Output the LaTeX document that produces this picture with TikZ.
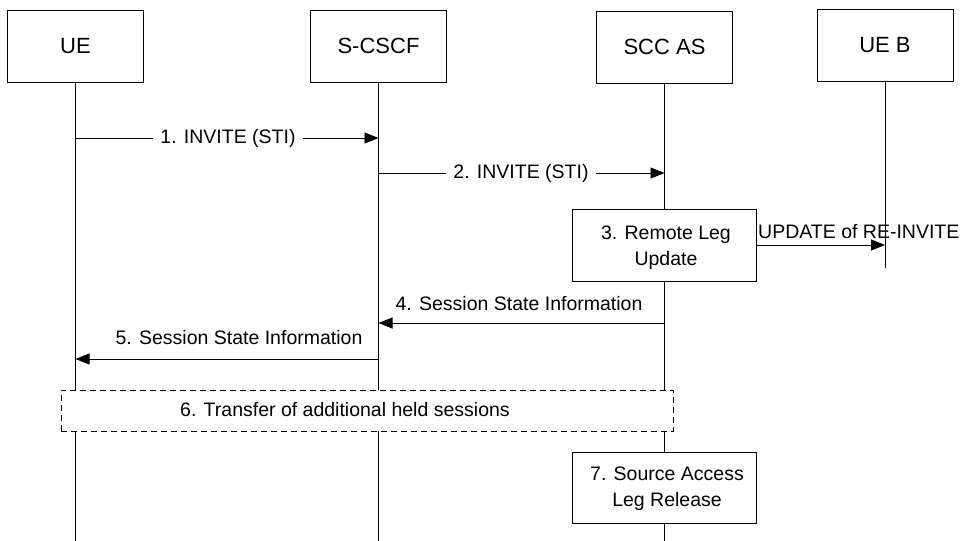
\documentclass[tikz,border=0pt]{standalone}
\usepackage{fontspec}
\setmainfont{Liberation Sans}
\usetikzlibrary{arrows.meta}

\tikzset{
  entity/.style={draw, fill=white, line width=0.8pt, minimum width=136pt, minimum height=72pt,
                 inner sep=0pt, font=\fontsize{22}{26}\selectfont},
  procbox/.style={draw, fill=white, line width=0.8pt, minimum width=184pt, minimum height=72pt,
                  inner sep=0pt, align=center, font=\fontsize{19.5}{26}\selectfont},
  heldbox/.style={draw, fill=white, line width=0.8pt, dash pattern=on 6pt off 4pt,
                  minimum width=612pt, minimum height=41pt, inner sep=0pt},
  lifeline/.style={line width=0.8pt},
  msg/.style={line width=0.8pt, -{Triangle[length=14pt,width=11pt]}},
  msglabel/.style={font=\fontsize{19.5}{23}\selectfont, inner sep=0pt},
  onlinelabel/.style={msglabel, fill=white, inner xsep=7pt, inner ysep=3pt}
}

\begin{document}
\begin{tikzpicture}[x=1pt,y=-1pt]
  \useasboundingbox[fill=white] (0,0) rectangle (962,541);

  % participants
  \node[entity] (ue)    at (75.5,46)  {UE};
  \node[entity] (scscf) at (378.5,46) {S-CSCF};
  \node[entity] (sccas) at (664.5,47) {SCC AS};
  \node[entity] (ueb)   at (885,45)   {UE B};

  % lifeline ends
  \coordinate (ueEnd)    at (ue.south |- 0,541);
  \coordinate (scscfEnd) at (scscf.south |- 0,541);
  \coordinate (sccasEnd) at (sccas.south |- 0,541);
  \coordinate (uebEnd)   at (ueb.south |- 0,268);

  % lifelines (boxes drawn later cover them)
  \draw[lifeline] (ue.south) -- (ueEnd);
  \draw[lifeline] (scscf.south) -- (scscfEnd);
  \draw[lifeline] (sccas.south) -- (sccasEnd);
  \draw[lifeline] (ueb.south) -- (uebEnd);

  % message anchor points on the lifelines
  \coordinate (m1a) at (ue.south |- 0,138);
  \coordinate (m1b) at (scscf.south |- 0,138);
  \coordinate (m2a) at (scscf.south |- 0,173);
  \coordinate (m2b) at (sccas.south |- 0,173);
  \coordinate (m3b) at (ueb.south |- 0,245);
  \coordinate (m4a) at (sccas.south |- 0,323);
  \coordinate (m4b) at (scscf.south |- 0,323);
  \coordinate (m5a) at (scscf.south |- 0,359);
  \coordinate (m5b) at (ue.south |- 0,359);

  % 1. INVITE
  \draw[msg] (m1a) -- (m1b);
  \node[onlinelabel] (l1) at (228,138) {1. INVITE (STI)};

  % 2. INVITE
  \draw[msg] (m2a) -- (m2b);
  \node[onlinelabel] (l2) at (521,173) {2. INVITE (STI)};

  % 3. remote leg update
  \node[procbox] (upd) at (664,245) {};
  \node[procbox, draw=none, fill=none] (updtxt) at (666,248) {3. Remote Leg\\Update};
  \coordinate (m3a) at (upd.east |- 0,245);
  \draw[msg] (m3a) -- (m3b);
  \node[msglabel, anchor=west] (l3) at (758,232) {UPDATE of RE-INVITE};

  % 4. session state information
  \draw[msg] (m4a) -- (m4b);
  \node[msglabel] (l4) at (519,304) {4. Session State Information};

  % 5. session state information
  \draw[msg] (m5a) -- (m5b);
  \node[msglabel] (l5) at (239,338) {5. Session State Information};

  % 6. transfer of held sessions
  \node[heldbox] (held) at (367,410.5) {};
  \node[msglabel] (l6) at (345,410) {6. Transfer of additional held sessions};

  % 7. source access leg release
  \node[procbox, minimum height=71pt] (rel) at (664,487.5) {};
  \node[procbox, draw=none, fill=none] (reltxt) at (667,489) {7. Source Access\\Leg Release};
\end{tikzpicture}
\end{document}
